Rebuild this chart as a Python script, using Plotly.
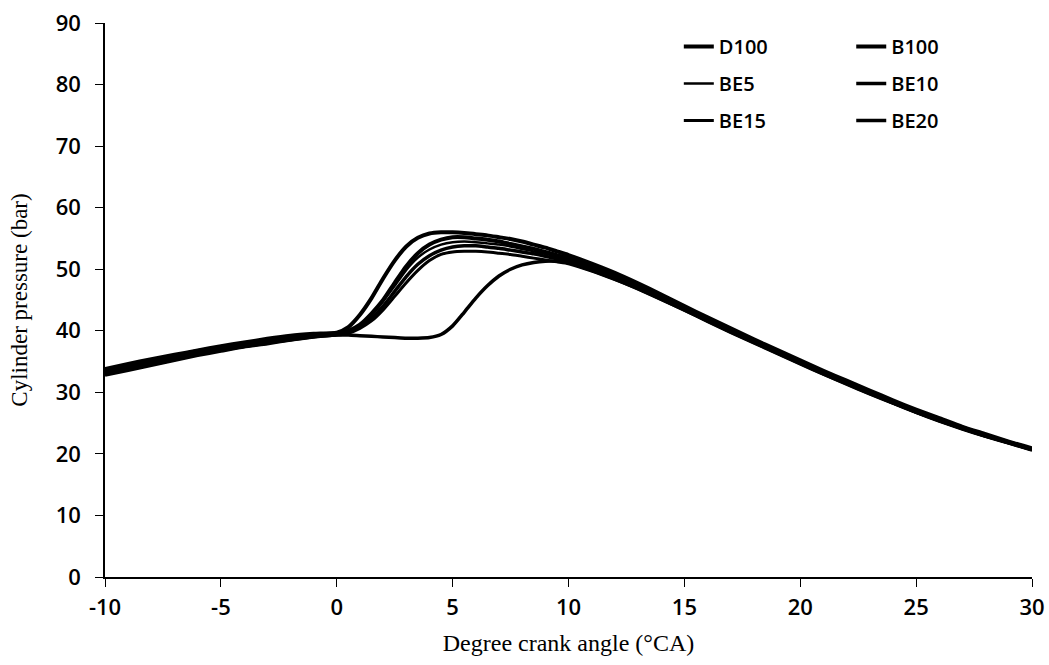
import plotly.graph_objects as go

crank_angle = [-10, -9, -8, -7, -6, -5, -4, -3, -2, -1, 0,
               0.5, 1, 1.5, 2, 2.5, 3, 3.5, 4, 4.5, 5, 5.5, 6, 6.5, 7, 7.5, 8, 8.5, 9, 9.5, 10,
               11, 12, 13, 14, 15, 16, 17, 18, 19, 20, 21, 22, 23, 24, 25, 26, 27, 28, 29, 30]

D100 = [33.6, 34.4, 35.2, 35.9, 36.7, 37.3, 37.9, 38.5, 39.0, 39.4, 39.6,
        40.0, 41.0, 42.8, 45.0, 47.8, 50.5, 52.6, 54.0, 54.8, 55.2, 55.2, 55.0, 54.8, 54.5, 54.1, 53.7, 53.3, 52.8, 52.3, 51.8,
        50.5, 49.0, 47.4, 45.6, 43.8, 42.0, 40.2, 38.4, 36.7, 35.0, 33.3, 31.7, 30.1, 28.5, 27.0, 25.6, 24.3, 23.0, 21.9, 20.8]

B100 = [33.8, 34.6, 35.4, 36.1, 36.8, 37.5, 38.1, 38.7, 39.2, 39.5, 39.7,
        40.6, 42.6, 45.3, 48.5, 51.4, 53.7, 55.1, 55.8, 56.0, 56.0, 55.9, 55.7, 55.5, 55.2, 54.9, 54.5, 54.0, 53.5, 52.9, 52.3,
        50.9, 49.4, 47.7, 45.9, 44.0, 42.2, 40.4, 38.6, 36.9, 35.2, 33.5, 31.9, 30.3, 28.7, 27.2, 25.8, 24.4, 23.2, 22.0, 20.9]

BE5 = [33.3, 34.1, 34.9, 35.7, 36.4, 37.1, 37.7, 38.3, 38.8, 39.2, 39.5,
       39.9, 40.8, 42.5, 44.8, 47.3, 49.9, 51.9, 53.2, 54.0, 54.4, 54.5, 54.4, 54.2, 54.0, 53.7, 53.3, 52.9, 52.5, 52.0, 51.5,
       50.2, 48.8, 47.2, 45.4, 43.6, 41.8, 40.0, 38.3, 36.6, 34.9, 33.2, 31.6, 30.0, 28.4, 26.9, 25.5, 24.2, 23.0, 21.8, 20.8]

BE10 = [33.1, 33.9, 34.7, 35.5, 36.2, 36.9, 37.5, 38.1, 38.6, 39.1, 39.4,
        39.8, 40.6, 42.0, 44.0, 46.4, 48.8, 50.8, 52.2, 53.1, 53.6, 53.8, 53.8, 53.6, 53.4, 53.1, 52.8, 52.5, 52.1, 51.7, 51.3,
        50.0, 48.6, 47.0, 45.3, 43.5, 41.7, 39.9, 38.2, 36.5, 34.8, 33.1, 31.5, 29.9, 28.3, 26.8, 25.4, 24.1, 22.9, 21.8, 20.7]

BE15 = [32.9, 33.7, 34.5, 35.3, 36.1, 36.8, 37.4, 38.0, 38.5, 39.0, 39.3,
        39.6, 40.4, 41.6, 43.4, 45.6, 47.8, 49.8, 51.4, 52.4, 52.8, 52.9, 52.9, 52.8, 52.6, 52.4, 52.1, 51.8, 51.5, 51.2, 50.9,
        49.7, 48.3, 46.8, 45.1, 43.3, 41.5, 39.7, 38.0, 36.3, 34.6, 32.9, 31.3, 29.7, 28.2, 26.7, 25.3, 24.0, 22.8, 21.7, 20.6]

BE20 = [32.8, 33.6, 34.4, 35.2, 36.0, 36.7, 37.4, 37.9, 38.5, 39.0, 39.3,
        39.3, 39.2, 39.1, 39.0, 38.9, 38.8, 38.8, 38.9, 39.4, 40.8, 43.0, 45.3, 47.3, 48.9, 50.0, 50.7, 51.1, 51.3, 51.3, 51.1,
        49.8, 48.4, 46.8, 45.1, 43.4, 41.6, 39.8, 38.1, 36.4, 34.7, 33.0, 31.4, 29.8, 28.3, 26.8, 25.4, 24.1, 22.9, 21.8, 20.7]

series_names = ["D100", "B100", "BE5", "BE10", "BE15", "BE20"]
series_values = [D100, B100, BE5, BE10, BE15, BE20]
line_widths = [4, 4, 2.5, 3.5, 3, 3.5]
legend_ids = ["legend", "legend2", "legend", "legend2", "legend", "legend2"]

x_ticks = [-10, -5, 0, 5, 10, 15, 20, 25, 30]
x_tick_labels = ["-10", "-5", "0", "5", "10", "15", "20", "25", "30"]
y_ticks = [0, 10, 20, 30, 40, 50, 60, 70, 80, 90]

fig = go.Figure()
for name, vals, w, lg in zip(series_names, series_values, line_widths, legend_ids):
    fig.add_trace(go.Scatter(
        x=crank_angle, y=vals, mode="lines", name=name,
        line=dict(color="black", width=w, shape="spline", smoothing=0.6),
        legend=lg, legendgroup=name,
    ))

tick_font = dict(family="Open Sans", size=22, color="black", weight=600)
legend_common = dict(
    font=dict(family="Open Sans", size=20, color="black", weight=600),
    bgcolor="rgba(0,0,0,0)", orientation="v", tracegroupgap=8,
    yanchor="top", xanchor="left",
)

fig.update_layout(
    width=1049, height=665,
    margin=dict(l=105, r=17, t=23, b=88),
    paper_bgcolor="white", plot_bgcolor="white",
    showlegend=True,
    legend=dict(x=0.619, y=0.993, **legend_common),
    legend2=dict(x=0.805, y=0.993, **legend_common),
    xaxis=dict(
        range=[-10, 30], tickvals=x_ticks, ticktext=x_tick_labels, ticks="outside", ticklen=8,
        tickcolor="black", tickwidth=1.2, showline=True, linecolor="black", linewidth=1.5,
        showgrid=False, zeroline=False, tickfont=tick_font, ticklabelstandoff=2,
        automargin=False,
        title=dict(text="Degree crank angle (°CA)",
                   font=dict(family="Liberation Serif", size=24, color="black"), standoff=14),
    ),
    yaxis=dict(
        range=[0, 90], tickvals=y_ticks, ticks="outside", ticklen=8,
        tickcolor="black", tickwidth=1.2, showline=True, linecolor="black", linewidth=1.5,
        showgrid=False, zeroline=False, tickfont=tick_font, ticklabelstandoff=10,
        automargin=False,
        title=dict(text="Cylinder pressure (bar)",
                   font=dict(family="Liberation Serif", size=23, color="black"), standoff=22),
    ),
)

fig.write_html("out.html", config={"displayModeBar": False},
               post_script="document.body.style.margin='0';")
